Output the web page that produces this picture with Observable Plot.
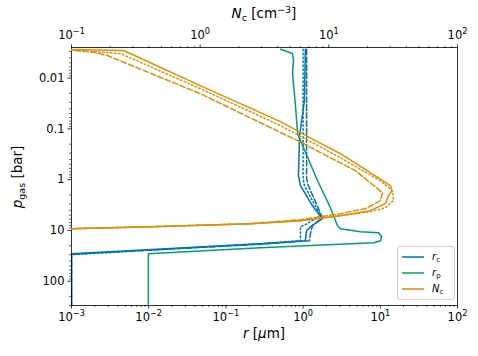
<!DOCTYPE html>
<html><head><meta charset="utf-8">
<script src="https://cdn.jsdelivr.net/npm/d3@7"></script>
<script src="https://cdn.jsdelivr.net/npm/@observablehq/plot@0.6"></script>
<style>
body{margin:0;background:#fff;}
#wrap{position:relative;width:478px;height:356px;font-family:"DejaVu Sans",sans-serif;}
#wrap > svg{position:absolute;left:0;top:0;overflow:visible;}
.leg{position:absolute;left:397px;top:246px;width:58px;height:54px;border:1px solid #d0d0d0;border-radius:3px;background:rgba(255,255,255,0.8);box-sizing:border-box;}
.row{position:absolute;left:4px;height:14px;width:50px;font-size:10px;line-height:14px;}
.row svg{position:absolute;left:0;top:0;}
.lt{position:absolute;left:30px;top:0;white-space:nowrap;}
.lt sub{font-size:7px;vertical-align:-2px;font-style:normal;}
</style></head><body><div id="wrap"></div>
<script>
// ---- data (pressure in bar, r in micron, N in cm^-3) ----
const rcSolidP = [0.0027, 0.0277, 0.136, 0.834, 1.31, 3.25, 5.87, 8.44, 10.1, 15.9, 18.2, 28.7, 300];
const rcSolidR = [1.07, 1.04, 0.90, 0.87, 0.925, 1.32, 1.78, 1.25, 1.11, 1.07, 0.28, 0.001, 0.001];
const rcDashP = [0.0027, 0.95, 1.31, 5.61, 8.06, 11.1, 15.9, 18.7, 29.4, 300];
const rcDashR = [1.11, 1.11, 1.17, 1.78, 1.32, 1.25, 1.21, 0.28, 0.001, 0.001];
const rcDotP = [0.0027, 0.956, 1.31, 5.12, 7.7, 8.44, 15.9, 18.2, 30.0, 300];
const rcDotR = [1.0, 1.0, 1.04, 1.68, 1.07, 0.925, 0.925, 0.28, 0.001, 0.001];
const rpP = [0.0027, 0.00329, 0.00452, 0.00815, 0.0381, 0.124, 0.234, 1.05, 3.56, 8.06, 9.24, 10.6, 11.1, 13.3, 15.9, 17.4, 21.9, 28.7, 300];
const rpR = [0.51, 0.73, 0.75, 0.73, 0.80, 0.85, 1.01, 1.54, 2.26, 2.79, 3.05, 5.54, 9.5, 10.4, 10.1, 8.2, 0.28, 0.0099, 0.0099];
const ncSolidP = [0.0027, 0.00287, 0.0141, 0.072, 0.17, 0.307, 0.728, 1.31, 1.65, 2.07, 2.97, 4.08, 5.12, 6.43, 7.36, 8.44, 9.24, 9.6];
const ncSolidN = [0.08, 0.254, 1.0, 4.21, 7.87, 12.3, 21.0, 30.1, 30.9, 29.0, 27.5, 21.0, 12.3, 6.02, 2.46, 0.41, 0.1, 0.05];
const ncDashP = [0.0027, 0.0031, 0.0036, 0.0202, 0.17, 0.665, 1.80, 2.59, 3.73, 4.68, 6.14, 7.36, 8.44, 9.24, 9.6];
const ncDashN = [0.08, 0.15, 0.19, 1.0, 5.7, 16.1, 26.1, 25.2, 19.2, 12.3, 6.02, 2.46, 0.41, 0.1, 0.05];
const ncDotP = [0.0027, 0.00329, 0.0161, 0.0863, 0.369, 1.05, 1.65, 2.59, 3.56, 4.27, 5.12, 6.43, 7.36, 8.44, 9.24, 9.6];
const ncDotN = [0.08, 0.24, 1.0, 4.21, 12.3, 25.2, 31.2, 31.8, 27.5, 21.0, 12.3, 6.02, 2.46, 0.41, 0.1, 0.05];

const rTicks = [1e-3, 1e-2, 1e-1, 1, 10, 100];
const rTickLabels = ["10⁻³", "10⁻²", "10⁻¹", "10⁰", "10¹", "10²"];
const nTicks = [0.1, 1, 10, 100];
const nTickLabels = ["10⁻¹", "10⁰", "10¹", "10²"];
const pTicks = [0.01, 0.1, 1, 10, 100];
const pTickLabels = ["0.01", "0.1", "1", "10", "100"];

// ---- layout ----
const W = 478, H = 356, ML = 71, MR = 21, MT = 47, MB = 51;
const blue = "#0173b2", teal = "#029e73", orange = "#de8f05";
const dash = "5.55,2.4", dot = "1.5,2.475";
const yDomain = [0.0025, 300];

function rows(P, V) { return P.map((p, i) => ({p, v: V[i]})); }
function minor(lo, hi) {
  const out = [];
  for (let e = lo; e < hi; e++) for (let k = 2; k <= 9; k++) out.push(k * Math.pow(10, e));
  return out;
}
function lab(ticks, labels) { return d => labels[ticks.findIndex(t => Math.abs(t - d) / t < 1e-6)] ?? ""; }

const common = {
  width: W, height: H, marginLeft: ML, marginRight: MR, marginTop: MT, marginBottom: MB,
  style: {background: "transparent", fontFamily: "DejaVu Sans, sans-serif", fontSize: "11.5px", color: "#000"}
};

const p1 = Plot.plot({
  ...common,
  x: {type: "log", domain: [1e-3, 1e2]},
  y: {type: "log", domain: yDomain, reverse: true},
  marks: [
    Plot.line(rows(rcSolidP, rcSolidR), {x: "v", y: "p", stroke: blue, strokeWidth: 1.5, clip: true}),
    Plot.line(rows(rcDashP, rcDashR), {x: "v", y: "p", stroke: blue, strokeWidth: 1.5, strokeDasharray: dash, clip: true}),
    Plot.line(rows(rcDotP, rcDotR), {x: "v", y: "p", stroke: blue, strokeWidth: 1.5, strokeDasharray: dot, clip: true}),
    Plot.line(rows(rpP, rpR), {x: "v", y: "p", stroke: teal, strokeWidth: 1.5, clip: true}),
    Plot.axisX({anchor: "bottom", ticks: rTicks, tickFormat: lab(rTicks, rTickLabels), tickSize: 3.5, tickPadding: 3.5, label: null, stroke: "#000", strokeWidth: 0.8}),
    Plot.axisX({anchor: "bottom", ticks: minor(-3, 2), tickFormat: () => "", tickSize: 2, label: null, stroke: "#000", strokeWidth: 0.6}),
    Plot.axisY({anchor: "left", ticks: pTicks, tickFormat: lab(pTicks, pTickLabels), tickSize: 3.5, tickPadding: 3.5, label: null, stroke: "#000", strokeWidth: 0.8}),
    Plot.axisY({anchor: "left", ticks: minor(-3, 3).filter(v => v >= yDomain[0] && v <= yDomain[1]), tickFormat: () => "", tickSize: 2, label: null, stroke: "#000", strokeWidth: 0.6}),
    Plot.frame({stroke: "#000", strokeWidth: 0.8})
  ]
});

const p2 = Plot.plot({
  ...common,
  x: {type: "log", domain: [0.1, 100]},
  y: {type: "log", domain: yDomain, reverse: true, axis: null},
  marks: [
    Plot.line(rows(ncSolidP, ncSolidN), {x: "v", y: "p", stroke: orange, strokeWidth: 1.5, clip: true}),
    Plot.line(rows(ncDashP, ncDashN), {x: "v", y: "p", stroke: orange, strokeWidth: 1.5, strokeDasharray: dash, clip: true}),
    Plot.line(rows(ncDotP, ncDotN), {x: "v", y: "p", stroke: orange, strokeWidth: 1.5, strokeDasharray: dot, clip: true}),
    Plot.axisX({anchor: "top", ticks: nTicks, tickFormat: lab(nTicks, nTickLabels), tickSize: 3.5, tickPadding: 5.5, label: null, stroke: "#000", strokeWidth: 0.8}),
    Plot.axisX({anchor: "top", ticks: minor(-1, 2), tickFormat: () => "", tickSize: 2, label: null, stroke: "#000", strokeWidth: 0.6})
  ]
});

const wrap = document.getElementById("wrap");
wrap.appendChild(p1);
wrap.appendChild(p2);

// render unicode superscript exponents as real raised tspans (matplotlib look)
const supMap = {"⁻": "−", "⁰": "0", "¹": "1", "²": "2", "³": "3"};
function supify(svg) {
  d3.select(svg).selectAll("text").each(function () {
    const t = this.textContent;
    const m = /^10([⁻⁰¹²³]+)$/.exec(t);
    if (!m) return;
    const exp = [...m[1]].map(c => supMap[c]).join("");
    const sel = d3.select(this);
    sel.text(null);
    sel.append("tspan").text("10");
    sel.append("tspan").attr("font-size", 8.2).attr("dy", -5).text(exp);
  });
}
supify(p1);
supify(p2);

// axis titles
const s1 = d3.select(p1);
const xl = s1.append("text").attr("x", (ML + W - MR) / 2).attr("y", 338).attr("text-anchor", "middle")
  .attr("font-size", 13.5).attr("font-family", "DejaVu Sans");
xl.append("tspan").attr("font-style", "italic").text("r");
xl.append("tspan").text(" [");
xl.append("tspan").attr("font-style", "italic").text("μ");
xl.append("tspan").text("m]");

const yl = s1.append("text").attr("transform", "translate(22,177) rotate(-90)").attr("text-anchor", "middle")
  .attr("font-size", 13.5).attr("font-family", "DejaVu Sans");
yl.append("tspan").attr("font-style", "italic").text("p");
yl.append("tspan").attr("font-size", 9.5).attr("dy", 3).text("gas");
yl.append("tspan").attr("dy", -3).text(" [bar]");

const s2 = d3.select(p2);
const tl = s2.append("text").attr("x", (ML + W - MR) / 2).attr("y", 18).attr("text-anchor", "middle")
  .attr("font-size", 13.5).attr("font-family", "DejaVu Sans");
tl.append("tspan").attr("font-style", "italic").text("N");
tl.append("tspan").attr("font-size", 9.5).attr("dy", 3).text("c");
tl.append("tspan").attr("dy", -3).text(" [cm");
tl.append("tspan").attr("font-size", 9.5).attr("dy", -5).text("−3");
tl.append("tspan").attr("dy", 5).text("]");

// legend
const legNames = [["r", "c"], ["r", "p"], ["N", "c"]];
const legColors = [blue, teal, orange];
const leg = document.createElement("div");
leg.className = "leg";
legNames.forEach((n, i) => {
  const r = document.createElement("div");
  r.className = "row";
  r.style.top = (3 + i * 16) + "px";
  r.innerHTML = `<svg width="24" height="14"><line x1="0" x2="22" y1="7" y2="7" stroke="${legColors[i]}" stroke-width="1.5"/></svg><span class="lt"><i>${n[0]}</i><sub>${n[1]}</sub></span>`;
  leg.appendChild(r);
});
wrap.appendChild(leg);
</script>
</body></html>
